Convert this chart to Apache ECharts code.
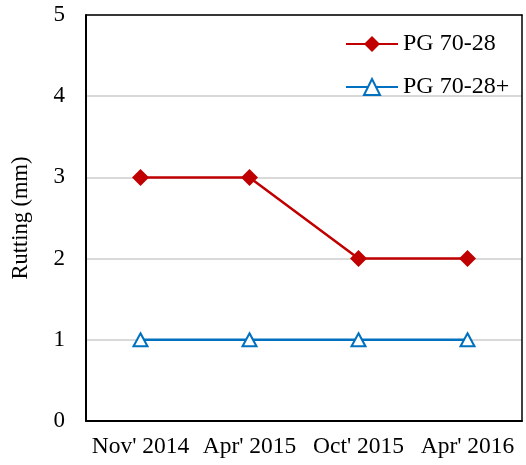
<!DOCTYPE html>
<html>
<head>
<meta charset="utf-8">
<script src="https://cdn.jsdelivr.net/npm/echarts@6/dist/echarts.min.js"></script>
<style>
  html, body { margin: 0; padding: 0; background: #fff; }
  #chart { width: 526px; height: 465px; }
</style>
</head>
<body>
<div id="chart"></div>
<script>
// Survey dates and measured rut depth (mm) for each binder
const categories = ["Nov' 2014", "Apr' 2015", "Oct' 2015", "Apr' 2016"];
const pg7028 = [3, 3, 2, 2];
const pg7028Plus = [1, 1, 1, 1];
const yTicks = { min: 0, max: 5, interval: 1 };

const font = 'Liberation Serif, Times New Roman, serif';
const chart = echarts.init(document.getElementById('chart'));

// plain frame axes (top and right) closing the plot box
const frameAxis = {
  show: true,
  axisLine: { show: true, onZero: false, lineStyle: { color: '#000', width: 1.5 } },
  axisTick: { show: false },
  axisLabel: { show: false },
  splitLine: { show: false }
};

chart.setOption({
  animation: false,
  backgroundColor: '#fff',
  grid: { left: 86, right: 4, top: 15, bottom: 44, containLabel: false },
  legend: {
    orient: 'vertical',
    left: 340, top: 27,
    itemWidth: 52, itemHeight: 20, itemGap: 19,
    textStyle: { fontFamily: font, fontSize: 24, color: '#000' },
    data: ['PG 70-28', 'PG 70-28+']
  },
  xAxis: [
    {
      type: 'category',
      data: categories,
      boundaryGap: true,
      axisLine: { lineStyle: { color: '#000', width: 2 } },
      axisTick: { show: false },
      axisLabel: {
        interval: 0, hideOverlap: false,
        fontFamily: font, fontSize: 23.5, color: '#000', margin: 14
      }
    },
    Object.assign({ type: 'category', position: 'top', data: categories }, frameAxis)
  ],
  yAxis: [
    {
      type: 'value',
      min: yTicks.min, max: yTicks.max, interval: yTicks.interval,
      name: 'Rutting (mm)',
      nameLocation: 'middle',
      nameGap: 53,
      nameTextStyle: { fontFamily: font, fontSize: 22.5, color: '#000' },
      axisLine: { show: true, lineStyle: { color: '#000', width: 2 } },
      axisTick: { show: false },
      axisLabel: { fontFamily: font, fontSize: 23, color: '#000', margin: 21 },
      splitLine: { lineStyle: { color: '#D9D9D9', width: 2 } }
    },
    Object.assign({
      type: 'value', position: 'right',
      min: yTicks.min, max: yTicks.max, interval: yTicks.interval
    }, frameAxis)
  ],
  series: [
    {
      name: 'PG 70-28',
      type: 'line',
      data: pg7028,
      symbol: 'diamond',
      symbolSize: [17, 17],
      lineStyle: { color: '#C00000', width: 2.5 },
      itemStyle: { color: '#C00000' },
      z: 3
    },
    {
      name: 'PG 70-28+',
      type: 'line',
      data: pg7028Plus,
      symbol: 'triangle',
      symbolSize: [14, 13],
      lineStyle: { color: '#0070C0', width: 2.5 },
      itemStyle: { color: '#fff', borderColor: '#0070C0', borderWidth: 2 },
      z: 3
    }
  ]
});
</script>
</body>
</html>
